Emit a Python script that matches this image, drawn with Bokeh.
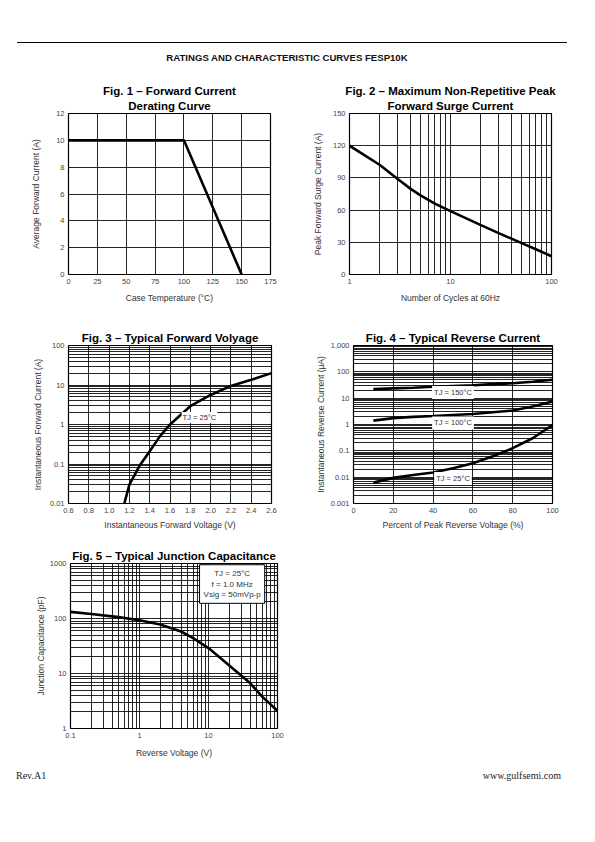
import math
from bokeh.plotting import figure
from bokeh.layouts import column, row
from bokeh.models import Div, FixedTicker, Label, Title, Range1d
from bokeh.embed import file_html
from bokeh.resources import INLINE

FONT = "Liberation Sans"

# ---------------- data ----------------
header_text = "RATINGS AND CHARACTERISTIC CURVES FESP10K"
footer_left = "Rev.A1"
footer_right = "www.gulfsemi.com"

# Fig. 1
f1_title = ["Fig. 1 \u2013 Forward Current", "Derating Curve"]
f1_xlabel = "Case Temperature (\u00b0C)"
f1_ylabel = "Average Forward Current (A)"
f1_temperature = [0, 100, 150]
f1_current = [10, 10, 0]
f1_xticks = [0, 25, 50, 75, 100, 125, 150, 175]
f1_xticklabels = ["0", "25", "50", "75", "100", "125", "150", "175"]
f1_yticks = [0, 2, 4, 6, 8, 10, 12]
f1_yticklabels = ["0", "2", "4", "6", "8", "10", "12"]

# Fig. 2
f2_title = ["Fig. 2 \u2013 Maximum Non-Repetitive Peak", "Forward Surge Current"]
f2_xlabel = "Number of Cycles at 60Hz"
f2_ylabel = "Peak Forward Surge Current (A)"
f2_cycles = [1, 2, 3, 4, 5, 7, 10, 20, 30, 50, 70, 100]
f2_current = [120, 102, 89, 80, 74, 66, 59, 46, 38.5, 29.5, 23.5, 17]
f2_xticks = [1, 10, 100]
f2_xticklabels = ["1", "10", "100"]
f2_yticks = [0, 30, 60, 90, 120, 150]
f2_yticklabels = ["0", "30", "60", "90", "120", "150"]

# Fig. 3
f3_title = ["Fig. 3 \u2013 Typical Forward Volyage"]
f3_xlabel = "Instantaneous Forward Voltage (V)"
f3_ylabel = "Instantaneous Forward Current (A)"
f3_voltage = [1.15, 1.2, 1.3, 1.4, 1.5, 1.6, 1.8, 2.0, 2.2, 2.4, 2.6]
f3_current = [0.01, 0.03, 0.09, 0.21, 0.5, 1.0, 2.9, 5.6, 9.5, 13.5, 20]
f3_note = "TJ = 25\u00b0C"
f3_xticks = [0.6, 0.8, 1.0, 1.2, 1.4, 1.6, 1.8, 2.0, 2.2, 2.4, 2.6]
f3_xticklabels = ["0.6", "0.8", "1.0", "1.2", "1.4", "1.6", "1.8", "2.0", "2.2", "2.4", "2.6"]
f3_yticks = [0.01, 0.1, 1, 10, 100]
f3_yticklabels = ["0.01", "0.1", "1", "10", "100"]

# Fig. 4
f4_title = ["Fig. 4 \u2013 Typical Reverse Current"]
f4_xlabel = "Percent of Peak Reverse Voltage (%)"
f4_ylabel = "Instantaneous Reverse Current (\u00b5A)"
f4_percent = [10, 20, 30, 40, 50, 60, 70, 80, 90, 100]
f4_i_150 = [22, 23.5, 25, 27, 29, 31, 34, 37, 42, 50]
f4_i_100 = [1.4, 1.75, 1.95, 2.1, 2.3, 2.5, 2.9, 3.4, 4.8, 7.5]
f4_i_25 = [0.0062, 0.0094, 0.012, 0.015, 0.022, 0.034, 0.062, 0.126, 0.30, 0.95]
f4_notes = ["TJ = 150\u00b0C", "TJ = 100\u00b0C", "TJ = 25\u00b0C"]
f4_note_x = [50, 50, 50]
f4_note_y = [16.3, 1.15, 0.0089]
f4_xticks = [0, 20, 40, 60, 80, 100]
f4_xticklabels = ["0", "20", "40", "60", "80", "100"]
f4_yticks = [0.001, 0.01, 0.1, 1, 10, 100, 1000]
f4_yticklabels = ["0.001", "0.01", "0.1", "1", "10", "100", "1,000"]

# Fig. 5
f5_title = ["Fig. 5 \u2013 Typical Junction Capacitance"]
f5_xlabel = "Reverse Voltage (V)"
f5_ylabel = "Junction Capacitance (pF)"
f5_voltage = [0.1, 0.2, 0.5, 1, 2, 4, 6, 10, 20, 40, 60, 100]
f5_capacitance = [132, 121, 106, 93, 78, 58, 44, 29, 14, 6.7, 3.8, 2.1]
f5_note = "TJ = 25\u00b0C\nf = 1.0 MHz\nVsig = 50mVp-p"
f5_xticks = [0.1, 1, 10, 100]
f5_xticklabels = ["0.1", "1", "10", "100"]
f5_yticks = [1, 10, 100, 1000]
f5_yticklabels = ["1", "10", "100", "1000"]


def log_grid(lo_exp, hi_exp):
    vals = []
    for e in range(lo_exp, hi_exp):
        for m in range(1, 10):
            vals.append(m * 10.0 ** e)
    vals.append(10.0 ** hi_exp)
    return vals


def make_fig(width, height, left, right, top, bottom, xr, yr, xtype, ytype,
             xticks, xlabels, yticks, ylabels, xgrid, ygrid, title_lines,
             xlabel, ylabel, x_lab_off=4, y_lab_off=12):
    p = figure(width=width, height=height, x_axis_type=xtype, y_axis_type=ytype,
               x_range=Range1d(*xr), y_range=Range1d(*yr),
               output_backend="svg", toolbar_location=None,
               min_border_left=left, min_border_right=right,
               min_border_top=top, min_border_bottom=bottom)
    p.background_fill_color = "white"
    p.border_fill_color = "white"
    p.outline_line_color = "black"
    p.outline_line_width = 1.2
    p.outline_line_alpha = 1
    for ax, ticks, labels, lab, off in ((p.xaxis[0], xticks, xlabels, xlabel, x_lab_off),
                                        (p.yaxis[0], yticks, ylabels, ylabel, y_lab_off)):
        ax.ticker = FixedTicker(ticks=ticks)
        ax.major_label_overrides = dict(zip(ticks, labels))
        ax.axis_line_color = None
        ax.major_tick_line_color = None
        ax.minor_tick_line_color = None
        ax.major_tick_in = 0
        ax.major_tick_out = 0
        ax.major_label_standoff = 4
        ax.major_label_text_font = FONT
        ax.major_label_text_font_size = "7.5px"
        ax.major_label_text_color = "#444444"
        ax.axis_label = lab
        ax.axis_label_text_font = FONT
        ax.axis_label_text_font_size = "8.5px"
        ax.axis_label_text_font_style = "normal"
        ax.axis_label_text_color = "#333333"
        ax.axis_label_standoff = off
    p.xgrid.ticker = FixedTicker(ticks=xgrid)
    p.ygrid.ticker = FixedTicker(ticks=ygrid)
    for g in (p.xgrid[0], p.ygrid[0]):
        g.grid_line_color = "black"
        g.grid_line_width = 1
        g.grid_line_alpha = 0.85
    for i, t in enumerate(reversed(title_lines)):
        p.add_layout(Title(text=t, align="center", text_font=FONT,
                           text_font_size="11.5px", text_font_style="bold",
                           text_color="black", standoff=3 if i == 0 else 0), "above")
    return p


# ---------------- figures ----------------
p1 = make_fig(288, 244, 68, 18, 36, 47, (0, 175), (0, 12), "linear", "linear",
              f1_xticks, f1_xticklabels, f1_yticks, f1_yticklabels,
              f1_xticks, f1_yticks, f1_title, f1_xlabel, f1_ylabel,
              x_lab_off=6, y_lab_off=12)
p1.line(f1_temperature, f1_current, line_color="black", line_width=2.6)

p2 = make_fig(280, 244, 61, 17, 36, 47, (1, 100), (0, 150), "log", "linear",
              f2_xticks, f2_xticklabels, f2_yticks, f2_yticklabels,
              log_grid(0, 2), f2_yticks, f2_title, f2_xlabel, f2_ylabel,
              x_lab_off=6, y_lab_off=7)
p2.line(f2_cycles, f2_current, line_color="black", line_width=2.6)

p3 = make_fig(288, 223, 68, 17, 24, 39, (0.6, 2.6), (0.01, 100), "linear", "log",
              f3_xticks, f3_xticklabels, f3_yticks, f3_yticklabels,
              f3_xticks, log_grid(-2, 2), f3_title, f3_xlabel, f3_ylabel,
              x_lab_off=4, y_lab_off=4)
p3.line(f3_voltage, f3_current, line_color="black", line_width=2.6)
p3.add_layout(Label(x=1.89, y=1.5, text=f3_note, text_font=FONT, text_font_size="7.5px",
                    text_align="center", text_baseline="middle", text_color="#333333",
                    background_fill_color="white", padding=1))

p4 = make_fig(280, 223, 65, 16, 22, 41, (0, 100), (0.001, 1000), "linear", "log",
              f4_xticks, f4_xticklabels, f4_yticks, f4_yticklabels,
              f4_xticks, log_grid(-3, 3), f4_title, f4_xlabel, f4_ylabel,
              x_lab_off=4, y_lab_off=2)
for series in (f4_i_150, f4_i_100, f4_i_25):
    p4.line(f4_percent, series, line_color="black", line_width=2.6)
for txt, xv, yv in zip(f4_notes, f4_note_x, f4_note_y):
    p4.add_layout(Label(x=xv, y=yv, text=txt, text_font=FONT, text_font_size="7.5px",
                        text_align="center", text_baseline="middle", text_color="#333333",
                        background_fill_color="white", padding=2))

p5 = make_fig(288, 220, 70, 11, 19, 36, (0.1, 100), (1, 1000), "log", "log",
              f5_xticks, f5_xticklabels, f5_yticks, f5_yticklabels,
              log_grid(-1, 2), log_grid(0, 3), f5_title, f5_xlabel, f5_ylabel,
              x_lab_off=7, y_lab_off=1)
p5.line(f5_voltage, f5_capacitance, line_color="black", line_width=2.6)
p5.add_layout(Label(x=22, y=950, text=f5_note, text_font=FONT, text_font_size="8px",
                    text_align="center", text_baseline="top", text_color="#333333",
                    background_fill_color="white", border_line_color="black",
                    border_line_width=1, padding=4))

header = Div(width=579, height=67, text=(
    '<div style="position:relative;width:579px;height:67px;font-family:\'Liberation Sans\',Arial,sans-serif;">'
    '<div style="position:absolute;left:12px;top:37px;width:550px;height:0;border-top:1.5px solid black;"></div>'
    '<div style="position:absolute;left:0;top:47px;width:564px;text-align:center;font-weight:bold;'
    'font-size:9.6px;line-height:12px;color:#111;">' + header_text + '</div></div>'))

footer = Div(width=579, height=24, text=(
    '<div style="position:relative;width:579px;height:24px;font-family:\'Liberation Serif\',\'Times New Roman\',serif;'
    'font-size:10px;line-height:12px;color:#222;">'
    '<div style="position:absolute;left:11px;top:1px;">' + footer_left + '</div>'
    '<div style="position:absolute;right:23px;top:1px;">' + footer_right + '</div></div>'))

layout = column(header, row(p1, p2), row(p3, p4), row(p5), footer)

open("out.html", "w").write(file_html(layout, INLINE))
